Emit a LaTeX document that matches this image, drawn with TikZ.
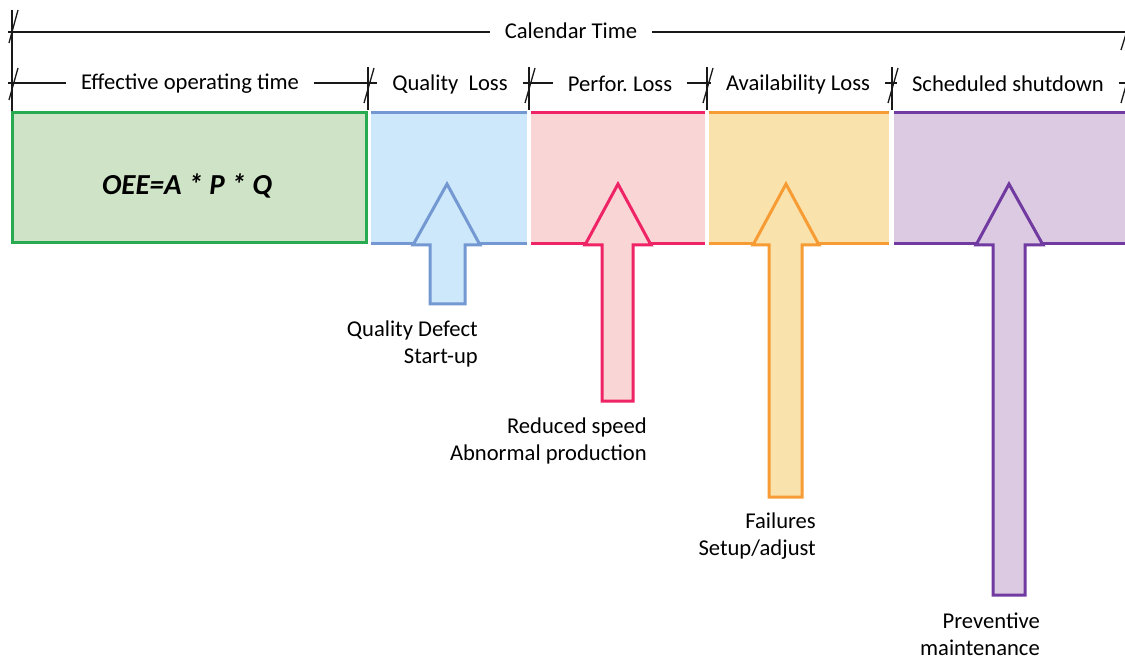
\documentclass[tikz,border=0pt]{standalone}
\usepackage{fontspec}
\setmainfont{Carlito}
\definecolor{oeegreen}{RGB}{40,170,80}
\definecolor{oeegreenfill}{RGB}{207,228,199}
\definecolor{qblue}{RGB}{116,152,210}
\definecolor{qbluefill}{RGB}{204,232,250}
\definecolor{ppink}{RGB}{238,36,102}
\definecolor{ppinkfill}{RGB}{250,213,213}
\definecolor{aorange}{RGB}{247,156,52}
\definecolor{aorangefill}{RGB}{250,226,172}
\definecolor{spurple}{RGB}{112,58,160}
\definecolor{spurplefill}{RGB}{220,202,226}
\frenchspacing

\begin{document}
\begin{tikzpicture}[x=1pt, y=-1pt,
  dimline/.style={line width=2pt, black!90},
  slash/.style={line width=1.3pt, black!90},
  dimlabel/.style={fill=white, inner xsep=15pt, inner ysep=1pt, font=\fontsize{22.6}{26}\selectfont},
  cause/.style={align=right, anchor=east, inner sep=0pt, font=\fontsize{22.6}{27}\selectfont},
  band/.style={line width=3pt},
  lossarrow/.style={line width=3pt, line join=miter}]

\useasboundingbox (0,0) rectangle (1125,660);

% dimension lines
\draw[dimline] (8,32) -- (1125,32);
\draw[dimline] (8,83) -- (1125,83);
\draw[dimline] (12,10) -- (12,113);
\draw[dimline] (368,67) -- (368,110);
\draw[dimline] (529,67) -- (529,110);
\draw[dimline] (707,67) -- (707,110);
\draw[dimline] (892,67) -- (892,110);

\node[dimlabel] (caltime)   at (571,31) {Calendar Time};
\node[dimlabel] (effective) at (190,84) {Effective operating time};
\node[dimlabel] (qloss)     at (450,84) {Quality~~Loss};
\node[dimlabel] (ploss)     at (620,84) {Perfor. Loss};
\node[dimlabel] (aloss)     at (798,84) {Availability Loss};
\node[dimlabel] (shutdown)  at (1008,84) {Scheduled shutdown};

\draw[slash] (18,10) -- (9,43);
\draw[slash] (18,68) -- (9,100);
\draw[slash] (374,68) -- (364,103);
\draw[slash] (535,68) -- (525,103);
\draw[slash] (713,68) -- (703,103);
\draw[slash] (898,68) -- (888,103);
\draw[slash] (1131,18) -- (1121,50);
\draw[slash] (1131,68) -- (1121,103);

% time bands
\fill[oeegreenfill] (12,113) rectangle (366,243);
\draw[band, oeegreen] (12,113) rectangle (366,243);
\node[font=\fontsize{29}{34}\selectfont\bfseries\itshape] (oee) at (187,186) {OEE=A * P * Q};

\fill[qbluefill] (371,113) rectangle (527,244);
\draw[band, qblue] (371,113) -- (527,113) (371,244) -- (527,244);

\fill[ppinkfill] (531,113) rectangle (705,244);
\draw[band, ppink] (531,113) -- (705,113) (531,244) -- (705,244);

\fill[aorangefill] (709,113) rectangle (889,244);
\draw[band, aorange] (709,113) -- (889,113) (709,244) -- (889,244);

\fill[spurplefill] (894,113) rectangle (1125,244);
\draw[band, spurple] (894,113) -- (1125,113) (894,244) -- (1125,244);

% loss arrows
\filldraw[lossarrow, draw=qblue, fill=qbluefill]
  (447,184) -- (480,245) -- (465,245) -- (465,304) -- (430,304) -- (430,245) -- (413,245) -- cycle;
\filldraw[lossarrow, draw=ppink, fill=ppinkfill]
  (618,184) -- (651,245) -- (633,245) -- (633,401) -- (602,401) -- (602,245) -- (585,245) -- cycle;
\filldraw[lossarrow, draw=aorange, fill=aorangefill]
  (786,184) -- (819,245) -- (802,245) -- (802,497) -- (769,497) -- (769,245) -- (753,245) -- cycle;
\filldraw[lossarrow, draw=spurple, fill=spurplefill]
  (1009,184) -- (1043,245) -- (1025,245) -- (1025,595) -- (993,595) -- (993,245) -- (976,245) -- cycle;

\node[cause] (qcause) at (478,343.5) {Quality Defect\\Start-up};
\node[cause] (pcause) at (647,440.5) {Reduced speed\\Abnormal production};
\node[cause] (acause) at (816,536.5) {Failures\\Setup/adjust};
\node[cause] (scause) at (1040,634) {Preventive\\maintenance};

\end{tikzpicture}
\end{document}
